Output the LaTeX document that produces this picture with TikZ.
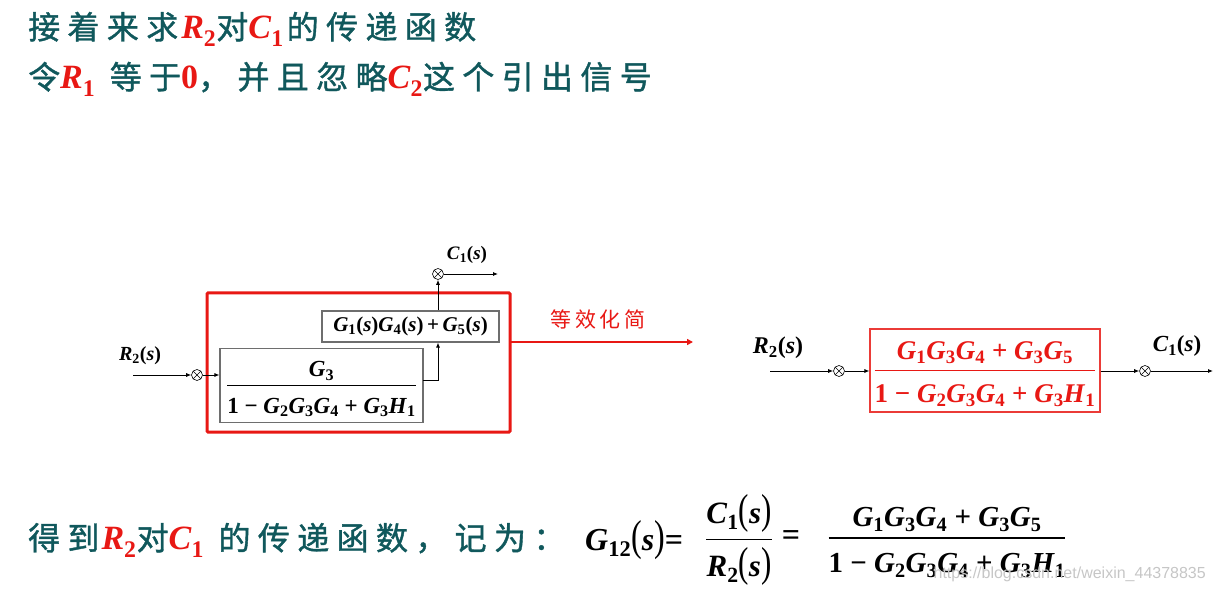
\documentclass[tikz,border=0pt]{standalone}
\usepackage{fontspec}
\usepackage{graphicx}
\setmainfont{Liberation Serif}
\newfontfamily\cjk{Noto Sans CJK SC}
\newfontfamily\cjkw[LetterSpace=23,FakeBold=1.2]{Noto Sans CJK SC}
\newfontfamily\wmfont{Liberation Sans}
\usetikzlibrary{arrows.meta}
\definecolor{teal1}{RGB}{16,88,92}
\definecolor{red1}{RGB}{232,24,20}
\definecolor{boxgray}{RGB}{110,110,110}
\newcommand{\bi}[1]{\textbf{\textit{#1}}}
\newcommand{\V}[2]{\bi{#1}\textsubscript{\textbf{#2}}}
\newcommand{\fs}[1]{\fontsize{#1}{#1}\selectfont}
\newcommand{\myfrac}[3]{\vbox{\offinterlineskip\halign{\hfil##\hfil\cr\vrule height1.06em depth0.17em width0pt #2\cr\noalign{\kern0.2em}\leaders\hrule height #1\hfill\cr\noalign{\kern0.2em}\vrule height0.98em depth0.25em width0pt #3\cr}}}
\newcommand{\tp}[1]{\scalebox{1}[1.35]{#1}}
\newcommand{\rl}[1]{\textcolor{red1}{\rmfamily\fs{34}#1}}
\tikzset{
  sumj/.style={circle,draw,inner sep=0pt,minimum size=11pt,line width=0.6pt,
    path picture={\draw[line width=0.6pt] (path picture bounding box.north west)--(path picture bounding box.south east)
      (path picture bounding box.north east)--(path picture bounding box.south west);}},
  sig/.style={-{Latex[length=5pt,width=4pt]},line width=0.8pt},
  gbox/.style={draw=boxgray,line width=1.2pt,inner sep=0pt},
  title/.style={anchor=west,inner sep=0pt,text=teal1},
}
\begin{document}
\begin{tikzpicture}[x=1pt,y=-1pt]
\useasboundingbox (0,0) rectangle (1215,593);
% titles
\node[title] (t1) at (28,29) {\fs{32}\cjkw 接着来求\hspace{3pt}\rl{\V{R}{2}}对\rl{\V{C}{1}}\hspace{3pt}的传递函数};
\node[title] (t2) at (28,79) {\fs{32}\cjkw 令\rl{\V{R}{1}} 等于\rl{\textbf{0}}，并且忽略\rl{\V{C}{2}}这个引出信号};

% left diagram
\draw[red1,line width=3pt,rounded corners=1pt] (207,293) rectangle (510,432);
\node[gbox,minimum width=203pt,minimum height=74pt] (lb) at (321.5,385.5) {};
\node[inner sep=0pt] (lbt) at (lb.center) {\fs{23}\myfrac{1pt}{\V{G}{3}}{\textbf{1} \textbf{−} \V{G}{2}\V{G}{3}\V{G}{4} \textbf{+} \V{G}{3}\V{H}{1}}};
\node[gbox,minimum width=177pt,minimum height=31pt] (ub) at (410.5,326.5) {};
\node (ubt) at (ub.center) {\fs{21}\V{G}{1}\textbf{(}\bi{s}\textbf{)}\V{G}{4}\textbf{(}\bi{s}\textbf{)}\,\textbf{+}\,\V{G}{5}\textbf{(}\bi{s}\textbf{)}};
\node[sumj] (s1) at (197,375) {};
\node[sumj] (s2) at (438,274) {};
\coordinate (in1) at (133,375);
\coordinate (out1) at (498,274);
\coordinate (lbo) at (423,380);
\coordinate (bend) at (438,380);
\node (r2a) at (140,356) {\fs{20}\V{R}{2}\textbf{(}\bi{s}\textbf{)}};
\node (c1a) at (467,255) {\fs{19}\V{C}{1}\textbf{(}\bi{s}\textbf{)}};
\draw[sig] (in1) -- (s1.west);
\draw[sig] (s1.east) -- (lb.west |- s1);
\draw[sig] (lbo) -- (bend) -- (ub.south -| bend);
\draw[sig] (ub.north -| s2) -- (s2.south);
\draw[sig] (s2.east) -- (out1);

% red arrow
\coordinate (ra1) at (510,342);
\coordinate (ra2) at (693,342);
\draw[red1,line width=2.2pt,-{Triangle[length=6pt,width=6pt]}] (ra1) -- (ra2);
\node[text=red1] (eq) at (598,319) {\fs{21}\cjk 等\,效\,化\,简};

% right diagram
\node[draw=red1!85,line width=1.2pt,minimum width=230pt,minimum height=83pt,inner sep=0pt] (rb) at (985,370.5) {};
\node[text=red1,inner sep=0pt] (rbt) at (rb.center) {\fs{27}\myfrac{1.2pt}{\V{G}{1}\V{G}{3}\V{G}{4} \textbf{+} \V{G}{3}\V{G}{5}}{\textbf{1} \textbf{−} \V{G}{2}\V{G}{3}\V{G}{4} \textbf{+} \V{G}{3}\V{H}{1}}};
\node[sumj] (s3) at (839,371) {};
\node[sumj] (s4) at (1145,371) {};
\coordinate (in2) at (770,371);
\coordinate (out2) at (1213,371);
\draw[sig] (in2) -- (s3.west);
\draw[sig] (s3.east) -- (rb.west |- s3);
\draw[sig] (rb.east |- s4) -- (s4.west);
\draw[sig] (s4.east) -- (out2);
\node (r2b) at (778,348) {\fs{24}\V{R}{2}\textbf{(}\bi{s}\textbf{)}};
\node (c1b) at (1177,346) {\fs{23}\V{C}{1}\textbf{(}\bi{s}\textbf{)}};

% bottom
\node[title] (t3) at (28,540) {\fs{32}\cjkw 得到\hspace{2pt}\rl{\V{R}{2}}对\rl{\V{C}{1}} 的传递函数，记为：};
\node[anchor=west,inner sep=0pt] (g12) at (585,540) {\fs{32}\V{G}{12}\tp{(}\bi{s}\tp{)}\textbf{=}};
\node[inner sep=0pt] (f1) at (739,538) {\fs{31}\myfrac{1.4pt}{\V{C}{1}\tp{(}\bi{s}\tp{)}}{\V{R}{2}\tp{(}\bi{s}\tp{)}}};
\node (eq2) at (791,538) {\fs{32}\textbf{=}};
\node[inner sep=0pt] (f2) at (947,538) {\fs{29}\myfrac{1.4pt}{\V{G}{1}\V{G}{3}\V{G}{4} \textbf{+} \V{G}{3}\V{G}{5}}{\textbf{1} \textbf{−} \V{G}{2}\V{G}{3}\V{G}{4} \textbf{+} \V{G}{3}\V{H}{1}}};
\node[text=gray!45,anchor=east,inner sep=0pt] (wm) at (1206,574) {\wmfont\fs{16}https://blog.csdn.net/weixin\_44378835};
\end{tikzpicture}
\end{document}
